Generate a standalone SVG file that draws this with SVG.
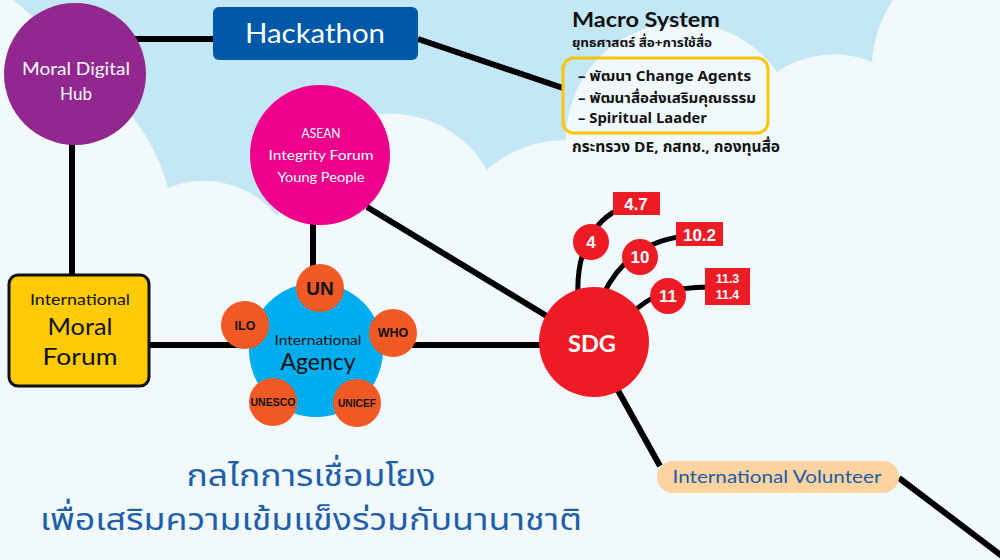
<svg xmlns="http://www.w3.org/2000/svg" width="1000" height="560" viewBox="0 0 1000 560">
<defs>
<style>
.hand{font-family:"Lato","Open Sans",sans-serif;}
.thai{font-family:"Noto Sans Thai","Noto Sans","DejaVu Sans",sans-serif;font-weight:bold;}
.title{font-family:"Noto Sans Thai","Noto Sans","DejaVu Sans",sans-serif;font-weight:normal;fill:#1f5fa9;}
.b{font-family:"Liberation Sans",Arial,sans-serif;font-weight:bold;}
.ln{stroke:#000;stroke-width:6;fill:none;}
.br{stroke:#000;stroke-width:5;fill:none;}
.org{fill:#f15a24;}
.red{fill:#ed1c24;}
.w{fill:#fff;}
.k{fill:#111;}
</style>
</defs>
<g id="background">
<rect width="1000" height="560" fill="#f1f9fd"/>
<path fill="#c3e7f5" d="M13,0 L893,0 A125,125 0 0 0 872,62 A100,100 0 0 0 777,72 A116,116 0 0 0 566,140 A117,117 0 0 0 487,170 A112,112 0 0 0 278,217 A94,94 0 0 0 168,188 C150,110 60,40 13,0 Z"/>
</g>
<g id="connectors">
<path class="ln" d="M130,39 L213,39"/>
<path class="ln" d="M418,39 L563,88"/>
<path class="ln" d="M72,140 L72,274"/>
<path class="ln" d="M150,345 L252,345"/>
<path class="ln" d="M313,222 L313,268"/>
<path class="ln" d="M412,345 L545,345"/>
<path class="ln" d="M367,207 L550,318"/>
<path class="br" d="M578,295 C576,250 595,215 630,205"/>
<path class="br" d="M603,295 C617,265 645,238 690,236"/>
<path class="br" d="M630,315 C650,295 670,287 710,287"/>
<path class="ln" d="M615,385 L660,466"/>
<path class="ln" d="M899,478 L1010,562"/>
</g>
<g id="moral-digital-hub">
<circle cx="75" cy="74" r="71" fill="#92278f"/>
<text class="hand w" x="76" y="75" font-size="17" text-anchor="middle" textLength="108" lengthAdjust="spacingAndGlyphs">Moral Digital</text>
<text class="hand w" x="76" y="100" font-size="17" text-anchor="middle">Hub</text>
</g>
<g id="hackathon">
<rect x="213" y="7" width="205" height="53" rx="6" fill="#0059a8"/>
<text class="hand w" x="315" y="43" font-size="26" text-anchor="middle" textLength="140" lengthAdjust="spacingAndGlyphs">Hackathon</text>
</g>
<g id="macro-system">
<text class="hand k" x="572" y="27" font-size="20" font-weight="bold" textLength="148" lengthAdjust="spacingAndGlyphs">Macro System</text>
<text class="thai k" x="572" y="47" font-size="13" textLength="140" lengthAdjust="spacingAndGlyphs">ยุทธศาสตร์ สื่อ+การใช้สื่อ</text>
<rect x="563" y="58" width="205" height="75" rx="11" fill="none" stroke="#fcc30b" stroke-width="3"/>
<text class="thai k" x="578" y="81" font-size="14" textLength="173" lengthAdjust="spacingAndGlyphs">– พัฒนา Change Agents</text>
<text class="thai k" x="578" y="103" font-size="14" textLength="178" lengthAdjust="spacingAndGlyphs">– พัฒนาสื่อส่งเสริมคุณธรรม</text>
<text class="thai k" x="578" y="123" font-size="14" textLength="129" lengthAdjust="spacingAndGlyphs">– Spiritual Laader</text>
<text class="thai k" x="572" y="152" font-size="15" textLength="208" lengthAdjust="spacingAndGlyphs">กระทรวง DE, กสทช., กองทุนสื่อ</text>
</g>
<g id="asean">
<circle cx="320" cy="155" r="70" fill="#ec008c"/>
<text class="hand w" x="321" y="138" font-size="13" text-anchor="middle" textLength="39" lengthAdjust="spacingAndGlyphs">ASEAN</text>
<text class="hand w" x="321" y="160" font-size="13" text-anchor="middle" textLength="105" lengthAdjust="spacingAndGlyphs">Integrity Forum</text>
<text class="hand w" x="321" y="182" font-size="13" text-anchor="middle" textLength="87" lengthAdjust="spacingAndGlyphs">Young People</text>
</g>
<g id="international-moral-forum">
<rect x="9" y="275" width="140" height="111" rx="9" fill="#ffcb05" stroke="#111" stroke-width="3"/>
<text class="hand k" x="80" y="305" font-size="15" text-anchor="middle" textLength="100" lengthAdjust="spacingAndGlyphs">International</text>
<text class="hand k" x="80" y="335" font-size="24" text-anchor="middle" textLength="65" lengthAdjust="spacingAndGlyphs">Moral</text>
<text class="hand k" x="80" y="365" font-size="24" text-anchor="middle" textLength="75" lengthAdjust="spacingAndGlyphs">Forum</text>
</g>
<g id="international-agency">
<circle cx="316" cy="350" r="67" fill="#00aeef"/>
<text class="hand k" x="318" y="345" font-size="14" text-anchor="middle" textLength="87" lengthAdjust="spacingAndGlyphs">International</text>
<text class="hand k" x="318" y="370" font-size="24" text-anchor="middle" textLength="75" lengthAdjust="spacingAndGlyphs">Agency</text>
</g>
<g id="un">
<circle class="org" cx="320" cy="288" r="24"/>
<text class="b k" x="320" y="295" font-size="19" text-anchor="middle">UN</text>
</g>
<g id="ilo">
<circle class="org" cx="245" cy="325" r="24"/>
<text class="b k" x="245" y="330" font-size="12.5" text-anchor="middle">ILO</text>
</g>
<g id="who">
<circle class="org" cx="393" cy="333" r="24"/>
<text class="b k" x="393" y="337" font-size="12.5" text-anchor="middle">WHO</text>
</g>
<g id="unesco">
<circle class="org" cx="273" cy="402" r="24"/>
<text class="b k" x="273" y="406" font-size="11" text-anchor="middle" textLength="45" lengthAdjust="spacingAndGlyphs">UNESCO</text>
</g>
<g id="unicef">
<circle class="org" cx="357" cy="403" r="24"/>
<text class="b k" x="357" y="407" font-size="11" text-anchor="middle" textLength="38" lengthAdjust="spacingAndGlyphs">UNICEF</text>
</g>
<g id="sdg">
<circle class="red" cx="594" cy="342" r="55"/>
<text class="hand w" x="592" y="352" font-size="23" font-weight="bold" text-anchor="middle" textLength="48" lengthAdjust="spacingAndGlyphs">SDG</text>
</g>
<g id="sdg-4">
<circle class="red" cx="591" cy="242" r="18"/>
<text class="b w" x="591" y="248" font-size="17" text-anchor="middle">4</text>
</g>
<g id="sdg-10">
<circle class="red" cx="640" cy="257" r="18"/>
<text class="b w" x="640" y="263" font-size="17" text-anchor="middle">10</text>
</g>
<g id="sdg-11">
<circle class="red" cx="668" cy="296" r="18"/>
<text class="b w" x="668" y="302" font-size="17" text-anchor="middle">11</text>
</g>
<g id="target-4-7">
<rect class="red" x="613" y="192" width="47" height="23"/>
<text class="b w" x="636" y="210" font-size="17" text-anchor="middle">4.7</text>
</g>
<g id="target-10-2">
<rect class="red" x="676" y="222" width="47" height="24"/>
<text class="b w" x="699.5" y="241" font-size="17" text-anchor="middle">10.2</text>
</g>
<g id="target-11">
<rect class="red" x="705" y="268" width="45" height="37"/>
<text class="b w" x="727.5" y="283" font-size="12.5" text-anchor="middle">11.3</text>
<text class="b w" x="727.5" y="299" font-size="12.5" text-anchor="middle">11.4</text>
</g>
<g id="international-volunteer">
<rect x="657" y="461" width="242" height="32" rx="16" fill="#fdd3a0"/>
<text class="hand" x="777" y="483" font-size="17" fill="#1b5ba9" text-anchor="middle" textLength="209" lengthAdjust="spacingAndGlyphs">International Volunteer</text>
</g>
<g id="title">
<text class="title" x="311" y="486" font-size="31" text-anchor="middle" textLength="249" lengthAdjust="spacingAndGlyphs">กลไกการเชื่อมโยง</text>
<text class="title" x="311" y="530" font-size="31" text-anchor="middle" textLength="542" lengthAdjust="spacingAndGlyphs">เพื่อเสริมความเข้มแข็งร่วมกับนานาชาติ</text>
</g>
</svg>
